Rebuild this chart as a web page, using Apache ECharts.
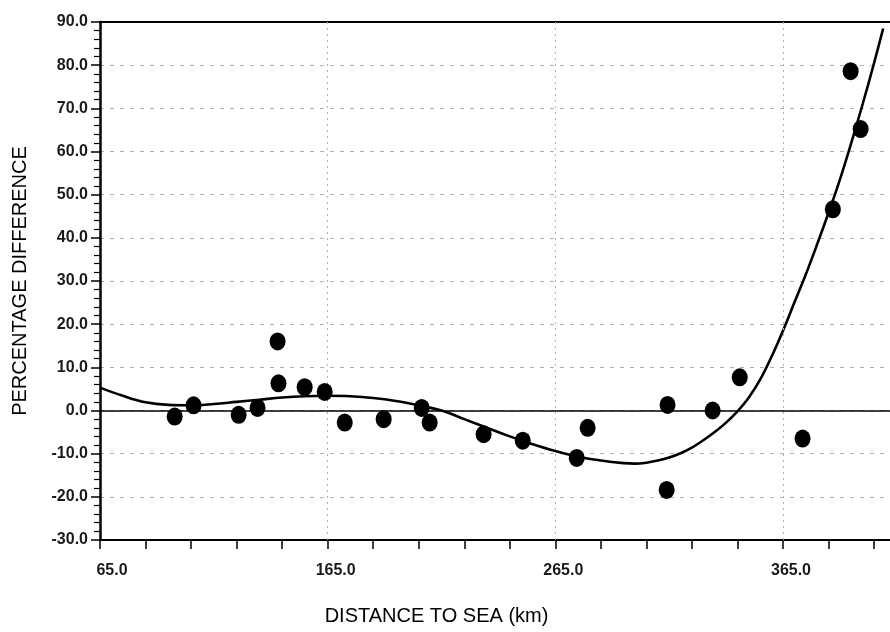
<!DOCTYPE html>
<html><head><meta charset="utf-8">
<script src="https://cdn.jsdelivr.net/npm/echarts@6/dist/echarts.min.js"></script>
<style>html,body{margin:0;padding:0;background:#fff}#c{width:890px;height:632px}</style>
</head><body><div id="c"></div>
<script>
// Observed points (distance km, percentage difference)
const pointsX = [97.8, 106.1, 125.9, 134.2, 143.0, 143.4, 154.9, 163.7, 172.5, 189.6, 206.3, 209.8, 233.5, 250.7, 274.4, 279.2, 314.3, 313.9, 334.1, 346.0, 373.6, 386.9, 394.7, 399.1];
const pointsY = [-1.4, 1.2, -1.0, 0.6, 16.0, 6.3, 5.4, 4.3, -2.8, -2.0, 0.6, -2.8, -5.5, -7.0, -11.0, -4.0, 1.3, -18.4, 0.0, 7.7, -6.5, 46.6, 78.6, 65.2];
// Fitted curve
const curveX = [65, 75, 85, 95, 105, 115, 125, 135, 145, 155, 165, 175, 185, 195, 205, 215, 225, 235, 245, 255, 265, 275, 285, 295, 300, 305, 310, 315, 320, 325, 330, 335, 340, 345, 350, 355, 360, 365, 370, 375, 380, 385, 390, 395, 400, 405, 409];
const curveY = [5.3, 3.4, 1.9, 1.3, 1.2, 1.5, 2.0, 2.5, 3.0, 3.3, 3.4, 3.3, 2.9, 2.2, 1.2, 0.0, -2.0, -4.0, -6.0, -7.8, -9.4, -10.7, -11.6, -12.2, -12.3, -12.1, -11.6, -10.9, -9.9, -8.6, -6.9, -5.0, -2.8, -0.2, 3.0, 7.2, 12.5, 18.5, 25.0, 31.5, 38.5, 45.8, 53.5, 62.0, 71.0, 80.5, 88.5];
// Axes
const xTickValues = [65, 85, 105, 125, 145, 165, 185, 205, 225, 245, 265, 285, 305, 325, 345, 365, 385, 405];
const xLabelValues = [65, 165, 265, 365];
const xGridValues = [165, 265, 365];
const xMin = 65, xMax = 412;
const yMin = -30, yMax = 90, yStep = 10;
const xTitle = 'DISTANCE TO SEA (km)';
const yTitle = 'PERCENTAGE DIFFERENCE';

const FONT = 'Liberation Sans, Arial, sans-serif';
const chart = echarts.init(document.getElementById('c'), null, {renderer: 'canvas'});

const scatterData = pointsX.map((x, i) => [x, pointsY[i]]);
const curveData = curveX.map((x, i) => [x, curveY[i]]);

const option = {
  backgroundColor: '#fff',
  animation: false,
  grid: {left: 100, right: 0, top: 22, bottom: 92, containLabel: false},
  xAxis: [{
    type: 'value', min: xMin, max: xMax, position: 'bottom',
    name: xTitle, nameLocation: 'middle', nameGap: 66,
    nameTextStyle: {fontFamily: FONT, fontSize: 20, color: '#000', padding: [0, 117, 0, 0]},
    axisLine: {show: true, onZero: false, lineStyle: {color: '#000', width: 2}},
    axisTick: {show: true, inside: false, length: 9, customValues: xTickValues, lineStyle: {color: '#000', width: 1.5}},
    axisLabel: {
      show: true, customValues: xLabelValues, margin: 23,
      formatter: v => { const s = Number(v).toFixed(1); return (s.length === 4 ? '{s|' : '{n|') + s + '}'; },
      rich: {
        s: {fontFamily: FONT, fontSize: 16, fontWeight: 'bold', color: '#1a1a1a', padding: [0, 0, 0, 24]},
        n: {fontFamily: FONT, fontSize: 16, fontWeight: 'bold', color: '#1a1a1a', padding: [0, 0, 0, 16]}
      }
    },
    splitLine: {show: false}
  }, {
    type: 'value', min: xMin, max: xMax, position: 'top',
    axisLine: {show: true, onZero: false, lineStyle: {color: '#000', width: 2}},
    axisTick: {show: false}, axisLabel: {show: false}, splitLine: {show: false}
  }],
  yAxis: {
    type: 'value', min: yMin, max: yMax, interval: yStep,
    name: yTitle, nameLocation: 'middle', nameGap: 70, nameRotate: 90,
    nameTextStyle: {fontFamily: FONT, fontSize: 20, color: '#000'},
    axisLine: {show: true, onZero: false, lineStyle: {color: '#000', width: 2.5}},
    axisTick: {show: true, inside: false, length: 9, lineStyle: {color: '#000', width: 1.5}},
    minorTick: {show: true, splitNumber: 5, length: 6, lineStyle: {color: '#000', width: 1.2}},
    axisLabel: {fontFamily: FONT, fontSize: 16, fontWeight: 'bold', color: '#1a1a1a', margin: 12, formatter: v => Number(v).toFixed(1)},
    splitLine: {show: true, lineStyle: {color: '#b0b0b0', width: 1, type: [4, 6]}}
  },
  series: [{
    type: 'line', xAxisIndex: 0, data: curveData, showSymbol: false, symbol: 'none',
    smooth: 0.4,
    lineStyle: {color: '#000', width: 2.6}, z: 3,
    markLine: {
      silent: true, symbol: ['none', 'none'], label: {show: false}, animation: false,
      data: [
        ...xGridValues.map(v => ({xAxis: v, lineStyle: {color: '#b0b0b0', width: 1, type: [2, 4]}})),
        {yAxis: 0, lineStyle: {color: '#000', width: 1.5, type: 'solid'}}
      ]
    }
  }, {
    type: 'scatter', xAxisIndex: 0, data: scatterData, symbol: 'circle', symbolSize: [16, 18],
    itemStyle: {color: '#000', opacity: 1}, z: 5
  }]
};
chart.setOption(option);
</script>
</body></html>
